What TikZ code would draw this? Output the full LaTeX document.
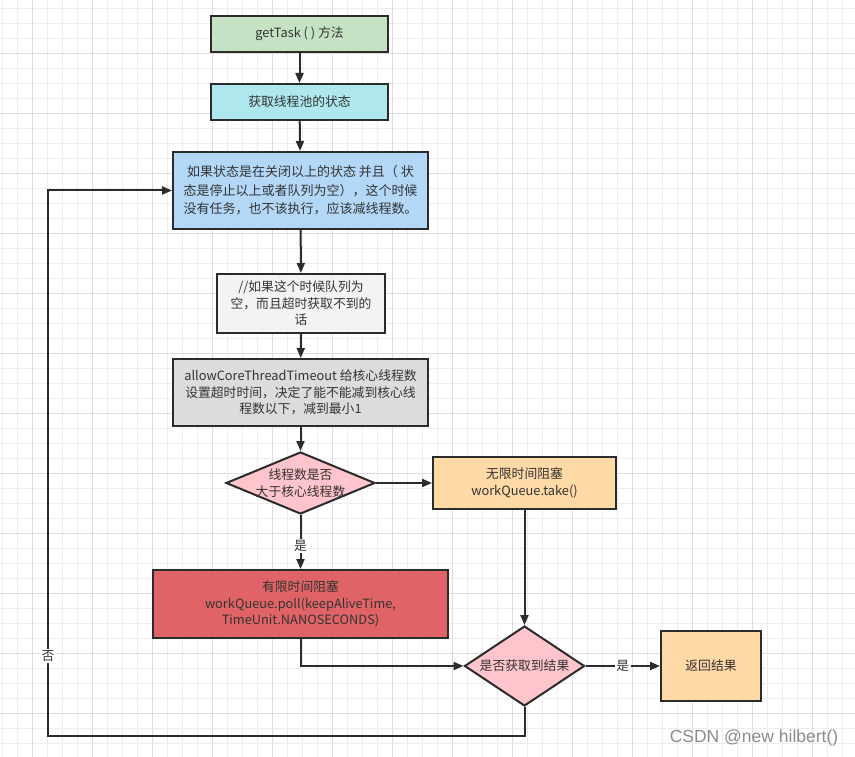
\documentclass[tikz,border=0pt]{standalone}
\usepackage{fontspec}
\setmainfont{Noto Sans CJK SC}
\newfontfamily\wmfont{Liberation Sans}
\usetikzlibrary{arrows.meta,shapes.geometric}
\definecolor{lineC}{HTML}{2B2B2B}
\definecolor{txtC}{HTML}{333333}
\definecolor{gridA}{HTML}{EDEDED}
\definecolor{gridB}{HTML}{DDDDDD}
\definecolor{cGreen}{HTML}{C5E3C4}
\definecolor{cCyan}{HTML}{AEE8EE}
\definecolor{cBlue}{HTML}{B3D8F7}
\definecolor{cWhite}{HTML}{F3F3F3}
\definecolor{cGray}{HTML}{DCDCDC}
\definecolor{cPink}{HTML}{FFC4CC}
\definecolor{cPeach}{HTML}{FFD9A6}
\definecolor{cRed}{HTML}{E06467}
\begin{document}
\begin{tikzpicture}[x=1pt,y=-1pt,
  box/.style={draw=lineC, line width=2pt, inner sep=0pt, align=center, text=txtC,
    font=\fontsize{12.8}{16.5}\selectfont},
  dia/.style={draw=lineC, line width=2pt, diamond, inner sep=0pt, fill=cPink},
  dtext/.style={inner sep=0pt, align=center, text=txtC, font=\fontsize{12.8}{16.5}\selectfont},
  conn/.style={draw=lineC, line width=2pt, -{Triangle[length=10pt,width=8pt]}},
  elab/.style={fill=white, inner sep=1.5pt, text=txtC, font=\fontsize{12.8}{15}\selectfont}
]
\useasboundingbox (0,0) rectangle (855,757);
\fill[white] (0,0) rectangle (855,757);
% grid
\foreach \i in {0,...,56} \draw[gridA, line width=1pt] ({2.5+15*\i},0) -- ({2.5+15*\i},757);
\foreach \j in {0,...,50} \draw[gridA, line width=1pt] (0,{8.3+15*\j}) -- (855,{8.3+15*\j});
\foreach \i in {0,...,13} \draw[gridB, line width=1pt] ({32.5+60*\i},0) -- ({32.5+60*\i},757);
\foreach \j in {0,...,11} \draw[gridB, line width=1pt] (0,{53.3+60*\j}) -- (855,{53.3+60*\j});

% nodes
\node[box, fill=cGreen, minimum width=177pt, minimum height=36pt] (gt) at (299.5,34) {getTask ( ) 方法};
\node[box, fill=cCyan, minimum width=177pt, minimum height=36pt] (st) at (299.5,102) {获取线程池的状态};
\node[box, fill=cBlue, minimum width=255pt, minimum height=77pt, font=\fontsize{13}{18.5}\selectfont] (bl) at (300.5,190.5)
  {如果状态是在关闭以上的状态 并且（ 状\\态是停止以上或者队列为空），这个时候\\没有任务，也不该执行，应该减线程数。};
\node[box, fill=cWhite, minimum width=168pt, minimum height=59pt] (iq) at (301,303.5)
  {//如果这个时候队列为\\空，而且超时获取不到的\\话};
\node[box, fill=cGray, minimum width=255pt, minimum height=67pt] (al) at (300.5,392.5)
  {allowCoreThreadTimeout 给核心线程数\\设置超时时间，决定了能不能减到核心线\\程数以下，减到最小1};
\node[dia, minimum width=149pt, minimum height=62pt] (d1) at (300.5,483) {};
\node[dtext] (d1t) at (d1.center) {线程数是否\\大于核心线程数};
\node[box, fill=cPeach, minimum width=183pt, minimum height=52pt] (tk) at (524.5,483)
  {无限时间阻塞\\workQueue.take()};
\node[box, fill=cRed, minimum width=295pt, minimum height=68pt] (pl) at (300.5,604)
  {有限时间阻塞\\workQueue.poll(keepAliveTime,\\TimeUnit.NANOSECONDS)};
\node[dia, minimum width=120pt, minimum height=80pt] (d2) at (524.5,666) {};
\node[dtext] (d2t) at (d2.center) {是否获取到结果};
\node[box, fill=cPeach, minimum width=100pt, minimum height=70pt] (rt) at (711,666) {返回结果};

\coordinate (c1) at (524.5,735.7);
\coordinate (c2) at (48,735.7);
\coordinate (c3) at (48,190.5);

% connectors
\draw[conn] (gt) -- (st);
\draw[conn] (st) -- (bl);
\draw[conn] (bl) -- (iq);
\draw[conn] (iq) -- (al);
\draw[conn] (al) -- (d1);
\draw[conn] (d1) -- node[elab, pos=0.57] {是} (pl);
\draw[conn] (d1) -- (tk);
\draw[conn] (tk) -- (d2);
\draw[conn] (pl.south) |- (d2.west);
\draw[conn] (d2) -- node[elab, pos=0.5] {是} (rt);
\draw[conn] (d2.south) -- (c1) -- (c2) -- node[elab, pos=0.147] {否} (c3) -- (bl.west);

% watermark
\node[inner sep=0pt, text=black!45, font=\wmfont\fontsize{17.5}{20}\selectfont] (wm) at (754,738) {CSDN @new hilbert()};
\end{tikzpicture}
\end{document}
